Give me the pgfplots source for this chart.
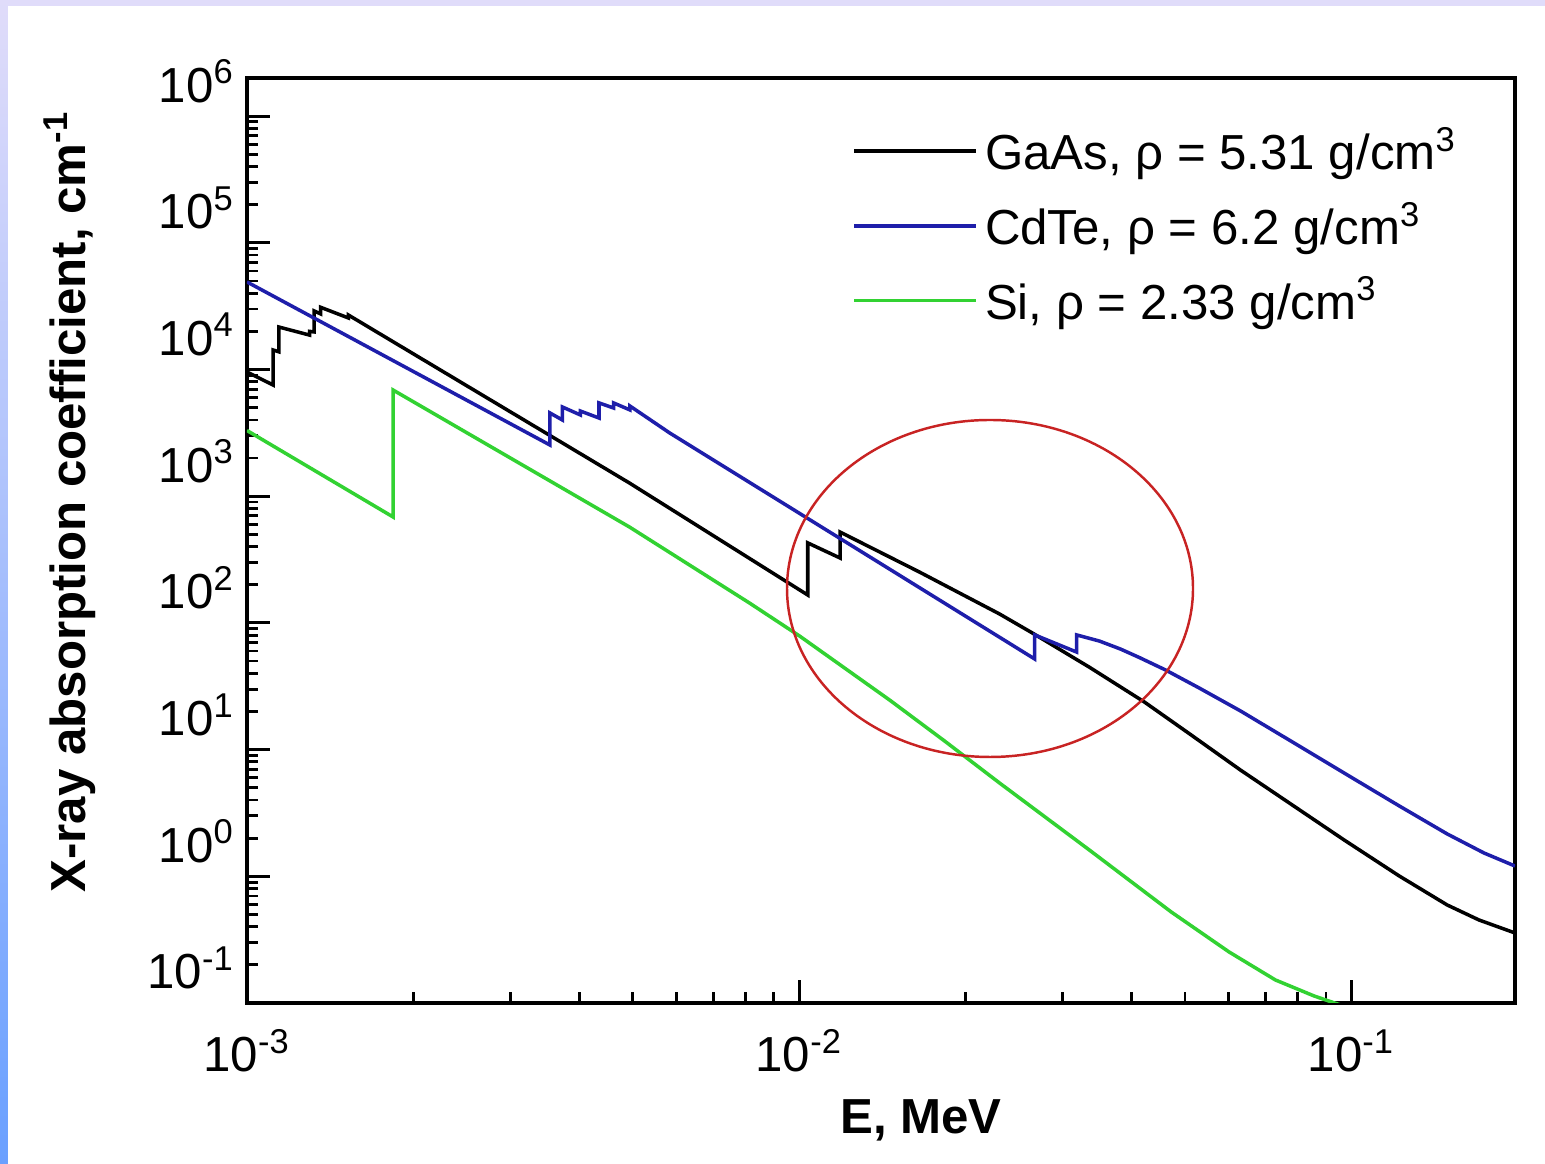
\documentclass[border=0pt]{standalone}
\usepackage{fontspec}
\setmainfont{Liberation Sans}
\usepackage{pgfplots}
\pgfplotsset{compat=1.18}
\definecolor{lav}{RGB}{224,220,250}
\definecolor{edgeblue}{RGB}{106,160,255}
\definecolor{cdblue}{RGB}{30,30,170}
\definecolor{sigreen}{RGB}{50,210,50}
\definecolor{ellred}{RGB}{200,35,35}
\begin{document}
\begin{tikzpicture}
\fill[white] (-2.47,-1.61) rectangle (12.98,10.03);
\fill[lav] (-2.47,9.97) rectangle (12.98,10.03);
\shade[top color=lav, bottom color=edgeblue] (-2.47,-1.61) rectangle (-2.39,10.03);
\begin{axis}[
 at={(0,0)}, anchor=south west,
 scale only axis, width=12.68cm, height=9.25cm,
 xmode=log, ymode=log,
 xmin=1e-3, xmax=0.198, ymin=0.1, ymax=2e6,
 xtick={0.001,0.01,0.1},
 xticklabels={10\textsuperscript{-3},10\textsuperscript{-2},10\textsuperscript{-1}},
 minor xtick={0.002,0.003,0.004,0.005,0.006,0.007,0.008,0.009,0.02,0.03,0.04,0.05,0.06,0.07,0.08,0.09},
 ytick={0.1,1,10,100,1000,10000,100000,1000000},
 yticklabels={10\textsuperscript{-1},10\textsuperscript{0},10\textsuperscript{1},10\textsuperscript{2},10\textsuperscript{3},10\textsuperscript{4},10\textsuperscript{5},10\textsuperscript{6}},
 minor ytick={0.2,0.3,0.4,0.5,0.6,0.7,0.8,0.9,2,3,4,5,6,7,8,9,20,30,40,50,60,70,80,90,200,300,400,500,600,700,800,900,2000,3000,4000,5000,6000,7000,8000,9000,20000,30000,40000,50000,60000,70000,80000,90000,200000,300000,400000,500000,600000,700000,800000,900000},
 tick align=inside, xtick pos=bottom, ytick pos=left,
 major tick length=2.3mm, minor tick length=1.1mm,
 every tick/.style={black, line width=0.8pt},
 axis line style={line width=0.9pt},
 tick label style={font=\fontsize{14pt}{16pt}\selectfont},
 yticklabel style={yshift=3.5mm},
 xticklabel style={yshift=-1.4mm},
 xlabel={E, MeV},
 ylabel={X-ray absorption coefficient, cm\textsuperscript{-1}},
 label style={font=\bfseries\fontsize{14pt}{16pt}\selectfont},
 xlabel style={at={(axis description cs:0.5315,-0.1265)}, anchor=center},
 ylabel style={at={(axis description cs:-0.14,0.542)}, anchor=center},
 legend style={draw=none, fill=none, at={(axis description cs:0.477,0.955)}, anchor=north west,
   font=\fontsize{14pt}{16pt}\selectfont, row sep=1.3mm, inner sep=0pt},
 legend cell align=left,
 legend image code/.code={\draw[#1] (0cm,0cm) -- (1.22cm,0cm);},
]
\addplot[black, line width=1pt] coordinates {
(1.000e-3,9550) (1.115e-3,7550) (1.115e-3,14260) (1.142e-3,13800) (1.142e-3,21650)
(1.298e-3,18700) (1.298e-3,20000) (1.323e-3,19800) (1.323e-3,29000) (1.359e-3,27500)
(1.359e-3,31000) (1.527e-3,25500) (1.527e-3,26900) (4.93e-3,1270) (10.367e-3,166)
(10.367e-3,428) (11.867e-3,325) (11.867e-3,521) (0.01652,252) (0.02307,117.6)
(0.02646,83.2) (0.0335,44.9) (0.0422,23.76) (0.0510,13.28) (0.0630,6.90) (0.0971,1.934)
(0.1222,1.005) (0.1492,0.594) (0.1704,0.452) (0.198,0.357)
};
\addlegendentry{GaAs, ρ = 5.31 g/cm\textsuperscript{3}}
\addplot[cdblue, line width=1pt] coordinates {
(1.000e-3,49100) (3.538e-3,2535) (3.538e-3,4540) (3.727e-3,3995) (3.727e-3,5060)
(4.018e-3,4375) (4.018e-3,4700) (4.341e-3,4140) (4.341e-3,5450) (4.612e-3,4970)
(4.612e-3,5450) (4.939e-3,4795) (4.939e-3,5150) (5.83e-3,3155) (0.02671,51.9)
(0.02671,80.4) (0.03181,58.9) (0.03181,80.4) (0.03499,71.9) (0.0382,62.2) (0.04133,53.3)
(0.0461,42.5) (0.05307,30.6) (0.0630,20.2) (0.0772,11.9) (0.0971,6.53) (0.1222,3.59)
(0.1492,2.16) (0.1740,1.527) (0.198,1.205)
};
\addlegendentry{CdTe, ρ = 6.2 g/cm\textsuperscript{3}}
\addplot[sigreen, line width=1pt] coordinates {
(1.000e-3,3300) (1.839e-3,686) (1.839e-3,6890) (4.93e-3,571) (8.13e-3,143.6)
(0.01002,78.8) (0.01459,24.6) (0.01834,11.7) (0.02307,5.45) (0.03355,1.613) (0.0472,0.523)
(0.0601,0.2526) (0.0729,0.152) (0.0857,0.1135) (0.0992,0.0913) (0.1222,0.075)
};
\addlegendentry{Si, ρ = 2.33 g/cm\textsuperscript{3}}
\end{axis}
\draw[ellred, line width=0.7pt] (7.43,4.145) ellipse [x radius=2.03cm, y radius=1.685cm];
\end{tikzpicture}
\end{document}
